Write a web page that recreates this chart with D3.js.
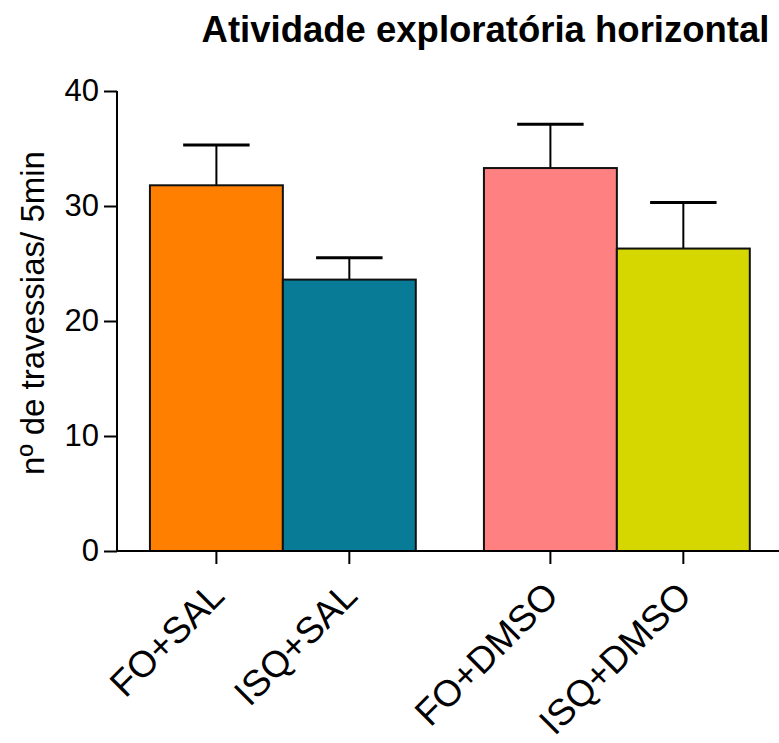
<!DOCTYPE html>
<html>
<head>
<meta charset="utf-8">
<script src="https://cdn.jsdelivr.net/npm/d3@7"></script>
<style>
  body { margin: 0; background: #fff; }
  text { font-family: "Liberation Sans", Arial, sans-serif; fill: #000; }
</style>
</head>
<body>
<div id="chart"></div>
<script>
// data
var groups = ["SAL", "DMSO"];
var categories = ["FO+SAL", "ISQ+SAL", "FO+DMSO", "ISQ+DMSO"];
var groupOf = ["SAL", "SAL", "DMSO", "DMSO"];
var means = [31.8, 23.6, 33.3, 26.3];
var sems = [3.5, 1.9, 3.8, 4.0];
var colors = ["#ff8000", "#087c96", "#ff8080", "#d6d600"];
var yTicks = [0, 10, 20, 30, 40];

var width = 779, height = 743;
var plotLeft = 117, plotRight = 779, plotTop = 91, plotBottom = 551;

var svg = d3.select("#chart").append("svg")
        .attr("width", width)
        .attr("height", height);

var y = d3.scaleLinear().domain([0, 40]).range([plotBottom, plotTop]);

var xGroup = d3.scaleBand()
        .domain(groups)
        .range([plotLeft, plotRight])
        .paddingInner(0.204)
        .paddingOuter(0.093)
        .align(0.53);

var xInner = d3.scaleBand()
        .domain([0, 1])
        .range([0, xGroup.bandwidth()]);

var data = categories.map(function (c, i) {
    var withinGroup = groupOf.slice(0, i).filter(function (g) { return g === groupOf[i]; }).length;
    return {name: c, mean: means[i], sem: sems[i], color: colors[i],
        x: xGroup(groupOf[i]) + xInner(withinGroup)};
});
var bw = xInner.bandwidth();

// title
svg.append("text")
        .attr("x", 485.5)
        .attr("y", 42)
        .attr("text-anchor", "middle")
        .style("font-weight", "bold")
        .style("font-size", "36.5px")
        .text("Atividade exploratória horizontal");

// error bars (drawn before bars so only the upper part shows)
var err = svg.selectAll(".err")
        .data(data)
        .enter()
        .append("g")
        .attr("class", "err");

err.append("line")
        .attr("x1", function (d) { return d.x + bw / 2; })
        .attr("x2", function (d) { return d.x + bw / 2; })
        .attr("y1", function (d) { return y(d.mean); })
        .attr("y2", function (d) { return y(d.mean + d.sem); })
        .attr("stroke", "#000")
        .attr("stroke-width", 2);

err.append("line")
        .attr("x1", function (d) { return d.x + bw / 4; })
        .attr("x2", function (d) { return d.x + bw * 3 / 4; })
        .attr("y1", function (d) { return y(d.mean + d.sem); })
        .attr("y2", function (d) { return y(d.mean + d.sem); })
        .attr("stroke", "#000")
        .attr("stroke-width", 3);

// bars
svg.selectAll(".bar")
        .data(data)
        .enter()
        .append("rect")
        .attr("class", "bar")
        .attr("x", function (d) { return d.x; })
        .attr("y", function (d) { return y(d.mean); })
        .attr("width", bw)
        .attr("height", function (d) { return plotBottom - y(d.mean); })
        .attr("fill", function (d) { return d.color; })
        .attr("stroke", "#111")
        .attr("stroke-width", 2);

// y axis
var yAxis = svg.append("g")
        .attr("transform", "translate(" + plotLeft + ",0)")
        .call(d3.axisLeft(y).tickValues(yTicks).tickSize(13).tickPadding(5).tickFormat(d3.format("d")));
yAxis.select(".domain").attr("stroke-width", 2).attr("d", "M0," + plotTop + "V" + plotBottom);
yAxis.selectAll(".tick line").attr("stroke-width", 2);
yAxis.selectAll(".tick text")
        .style("font-size", "31px")
        .attr("font-family", null);

// x axis
svg.append("line")
        .attr("x1", plotLeft)
        .attr("x2", plotRight)
        .attr("y1", plotBottom)
        .attr("y2", plotBottom)
        .attr("stroke", "#000")
        .attr("stroke-width", 2);

svg.selectAll(".xtick")
        .data(data)
        .enter()
        .append("line")
        .attr("class", "xtick")
        .attr("x1", function (d) { return d.x + bw / 2; })
        .attr("x2", function (d) { return d.x + bw / 2; })
        .attr("y1", plotBottom)
        .attr("y2", plotBottom + 13)
        .attr("stroke", "#000")
        .attr("stroke-width", 2);

svg.selectAll(".xlabel")
        .data(data)
        .enter()
        .append("text")
        .attr("class", "xlabel")
        .attr("text-anchor", "end")
        .attr("transform", function (d) {
            return "translate(" + (d.x + bw / 2 + 10) + "," + (plotBottom + 47) + ") rotate(-45)";
        })
        .style("font-size", "37px")
        .text(function (d) { return d.name; });

// y label
svg.append("text")
        .attr("transform", "translate(44," + ((plotTop + plotBottom) / 2 - 8) + ") rotate(-90)")
        .attr("text-anchor", "middle")
        .style("font-size", "33px")
        .text("nº de travessias/ 5min");
</script>
</body>
</html>
